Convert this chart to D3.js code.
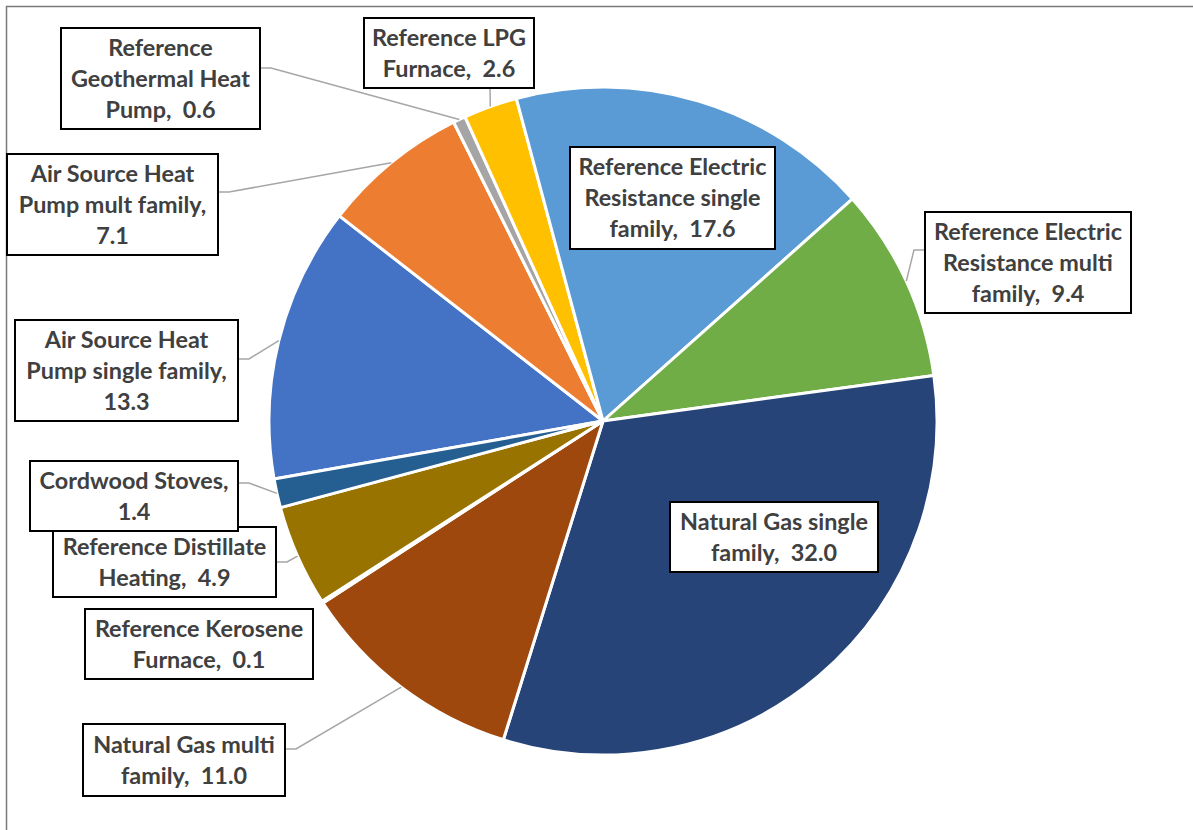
<!DOCTYPE html>
<html>
<head>
<meta charset="utf-8">
<script src="https://cdn.jsdelivr.net/npm/d3@7"></script>
<style>
  html, body { margin: 0; padding: 0; background: #fff; }
  svg { display: block; }
  text { white-space: pre; }
</style>
</head>
<body>
<svg id="chart" width="1193" height="830"></svg>
<script>
// ---- data ----
const categories = [
  "Air Source Heat Pump single family",
  "Air Source Heat Pump mult family",
  "Reference Geothermal Heat Pump",
  "Reference LPG Furnace",
  "Reference Electric Resistance single family",
  "Reference Electric Resistance multi family",
  "Natural Gas single family",
  "Natural Gas multi family",
  "Reference Kerosene Furnace",
  "Reference Distillate Heating",
  "Cordwood Stoves"
];
const values = [13.3, 7.1, 0.6, 2.6, 17.6, 9.4, 32.0, 11.0, 0.1, 4.9, 1.4];
const colors = ["#4472C4", "#ED7D31", "#A5A5A5", "#FFC000", "#5B9BD5", "#70AD47",
                "#264478", "#9E480E", "#636363", "#997300", "#255E91"];

// ---- layout (label boxes, words per line, leader start) ----
const labelLayout = [
  { x: 15,  y: 320, w: 223, h: 101, lines: [3, 3, 1], lead: [238, 359, 1] },
  { x: 7,   y: 154, w: 211, h: 101, lines: [3, 3, 1], lead: [218, 192, 1] },
  { x: 61,  y: 28,  w: 199, h: 101, lines: [1, 2, 2], lead: [260, 68, 1] },
  { x: 364, y: 18,  w: 170, h: 70,  lines: [2, 2],    lead: [490, 88, 0] },
  { x: 570, y: 147, w: 205, h: 102, lines: [2, 2, 2], lead: null },
  { x: 925, y: 212, w: 206, h: 101, lines: [2, 2, 2], lead: [925, 250, -1] },
  { x: 670, y: 502, w: 208, h: 70,  lines: [3, 2],    lead: null },
  { x: 83,  y: 724, w: 202, h: 72,  lines: [3, 2],    lead: [285, 749, 1] },
  { x: 85,  y: 609, w: 228, h: 70,  lines: [2, 2],    lead: null },
  { x: 53,  y: 527, w: 223, h: 70,  lines: [2, 2],    lead: [276, 562, 1] },
  { x: 30,  y: 461, w: 208, h: 70,  lines: [2, 1],    lead: [238, 483, 1] }
];
const drawOrder = [0, 1, 2, 3, 4, 5, 6, 7, 8, 9, 10];

const cx = 603, cy = 421, R = 334;
const startDeg = 260;

const svg = d3.select("#chart");
const fmt = d3.format(".1f");

// chart area border (top & left visible)
svg.append("rect")
  .attr("x", 6.5).attr("y", 6.5)
  .attr("width", 1300).attr("height", 1000)
  .attr("fill", "#fff")
  .attr("stroke", "#7a7a7a")
  .attr("stroke-width", 1.5);

const pie = d3.pie().sort(null).value(d => d)
  .startAngle(startDeg * Math.PI / 180)
  .endAngle(startDeg * Math.PI / 180 + 2 * Math.PI);
const arcs = pie(values);
const arc = d3.arc().innerRadius(0).outerRadius(R);

const g = svg.append("g").attr("transform", `translate(${cx},${cy})`);
g.selectAll("path.slice")
  .data(arcs)
  .join("path")
  .attr("class", "slice")
  .attr("d", arc)
  .attr("fill", (d, i) => colors[i])
  .attr("stroke", "#fff")
  .attr("stroke-width", 3)
  .attr("stroke-linejoin", "round");

// font fitting
const fontFamily = "Lato, 'Open Sans', 'Liberation Sans', sans-serif";
const probe = svg.append("text")
  .attr("font-family", fontFamily).attr("font-weight", "bold")
  .attr("font-size", 100).text("Reference Electric");
const pw = probe.node().getComputedTextLength();
probe.remove();
const fontSize = Math.min(24, 100 * 188 / pw);
const lineH = 31;

function labelLines(i) {
  const words = categories[i].split(" ");
  words[words.length - 1] += ",";
  const tokens = words.concat([fmt(values[i])]);
  const out = [];
  let k = 0;
  labelLayout[i].lines.forEach(n => {
    const seg = tokens.slice(k, k + n);
    k += n;
    let s = "";
    seg.forEach((t, j) => {
      if (j === 0) s = t;
      else if (k - n + j === tokens.length - 1) s += "  " + t;
      else s += " " + t;
    });
    out.push(s);
  });
  return out;
}

// leader lines
const leaderG = svg.append("g");
arcs.forEach((a, i) => {
  const L = labelLayout[i];
  if (!L.lead) return;
  const mid = (a.startAngle + a.endAngle) / 2;
  const ex = cx + R * Math.sin(mid);
  const ey = cy - R * Math.cos(mid);
  const [sx, sy, dir] = L.lead;
  const pts = dir === 0 ? [[sx, sy], [ex, ey]] : [[sx, sy], [sx + dir * 11, sy], [ex, ey]];
  leaderG.append("path")
    .attr("d", d3.line()(pts))
    .attr("fill", "none")
    .attr("stroke", "#A6A6A6")
    .attr("stroke-width", 1.5);
});

// label boxes
const labG = svg.append("g");
drawOrder.forEach(i => {
  const L = labelLayout[i];
  const lg = labG.append("g");
  lg.append("rect")
    .attr("x", L.x).attr("y", L.y)
    .attr("width", L.w).attr("height", L.h)
    .attr("fill", "#fff")
    .attr("stroke", "#000")
    .attr("stroke-width", 2);
  const lines = labelLines(i);
  const mcy = L.y + L.h / 2;
  const n = lines.length;
  lines.forEach((t, j) => {
    lg.append("text")
      .attr("x", L.x + L.w / 2)
      .attr("y", mcy + (j - (n - 1) / 2) * lineH + fontSize * 0.36)
      .attr("text-anchor", "middle")
      .attr("font-family", fontFamily)
      .attr("font-weight", "bold")
      .attr("font-size", fontSize)
      .attr("fill", "#404040")
      .text(t);
  });
});
</script>
</body>
</html>
